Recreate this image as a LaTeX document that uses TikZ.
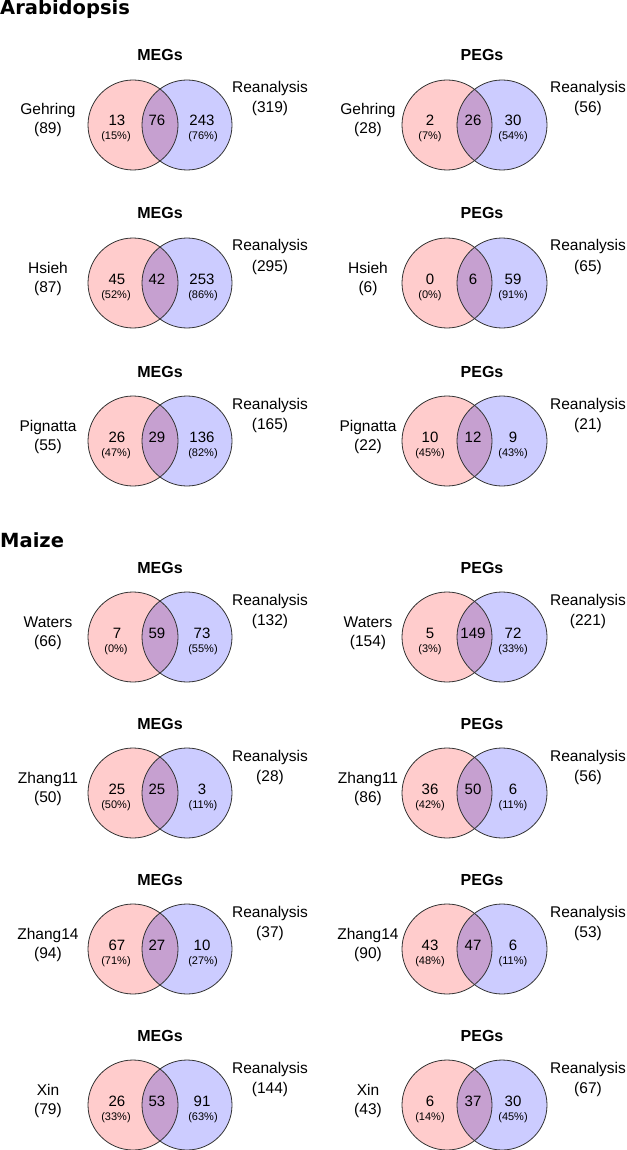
\documentclass[tikz,border=0pt]{standalone}
\usepackage{fontspec}
\setmainfont{Liberation Sans}
\newfontfamily\headfont{DejaVu Sans}
\definecolor{pinkfill}{RGB}{255,204,204}
\definecolor{bluefill}{RGB}{204,204,255}
\definecolor{lensfill}{RGB}{198,160,208}
\definecolor{edge}{RGB}{51,51,51}
\begin{document}
\begin{tikzpicture}[x=1pt,y=-1pt,
  setfill/.style={circle, minimum size=90pt, inner sep=0pt},
  redset/.style={setfill, fill=pinkfill},
  blueset/.style={setfill, fill=bluefill},
  ring/.style={draw=edge, line width=0.8pt},
  lbl/.style={anchor=base, inner sep=0pt, font=\fontsize{15.5}{18}\selectfont},
  num/.style={anchor=base, inner sep=0pt, font=\fontsize{15}{18}\selectfont},
  pct/.style={anchor=base, inner sep=0pt, font=\fontsize{11}{13}\selectfont},
  ttl/.style={anchor=base, inner sep=0pt, font=\fontsize{16}{19}\selectfont\bfseries},
  head/.style={anchor=base west, inner sep=0pt, font=\headfont\bfseries\fontsize{19.5}{23}\selectfont}]

\fill[white] (0,0) rectangle (626,1150);
\useasboundingbox (0,0) rectangle (626,1150);

\node[head] (arab) at (0,15) {Arabidopsis};
\node[head] (maize) at (0,547) {Maize};

\foreach \vid/\vc/\vy/\vt/\vln/\vlt/\va/\vap/\vab/\vb/\vbp/\vrt in {
  1/0/125/MEGs/Gehring/89/13/15/76/243/76/319,
  2/1/125/PEGs/Gehring/28/2/7/26/30/54/56,
  3/0/283/MEGs/Hsieh/87/45/52/42/253/86/295,
  4/1/283/PEGs/Hsieh/6/0/0/6/59/91/65,
  5/0/441/MEGs/Pignatta/55/26/47/29/136/82/165,
  6/1/441/PEGs/Pignatta/22/10/45/12/9/43/21,
  7/0/637/MEGs/Waters/66/7/0/59/73/55/132,
  8/1/637/PEGs/Waters/154/5/3/149/72/33/221,
  9/0/793/MEGs/Zhang11/50/25/50/25/3/11/28,
  10/1/793/PEGs/Zhang11/86/36/42/50/6/11/56,
  11/0/949/MEGs/Zhang14/94/67/71/27/10/27/37,
  12/1/949/PEGs/Zhang14/90/43/48/47/6/11/53,
  13/0/1105/MEGs/Xin/79/26/33/53/91/63/144,
  14/1/1105/PEGs/Xin/43/6/14/37/30/45/67} {
  \node[redset] (r\vid) at ({133+314*\vc},\vy) {};
  \node[blueset] (b\vid) at ({187+315*\vc},\vy) {};
  \begin{scope}
    \clip (r\vid.center) circle[radius=45pt];
    \fill[lensfill] (b\vid.center) circle[radius=45pt];
  \end{scope}
  \draw[ring] (r\vid.center) circle[radius=45pt];
  \draw[ring] (b\vid.center) circle[radius=45pt];
  \node[ttl] (t\vid) at ({160+322*\vc},{\vy-64}) {\vt};
  \node[lbl] (n\vid) at ({48+320*\vc},{\vy-10}) {\vln};
  \node[lbl] (nt\vid) at ({48+320*\vc},{\vy+9}) {(\vlt)};
  \node[num] (a\vid) at ({117+313*\vc},{\vy+1}) {\va};
  \node[pct] (ap\vid) at ({116+314*\vc},{\vy+15}) {(\vap\%)};
  \node[num] (ab\vid) at ({157+316*\vc},{\vy+1}) {\vab};
  \node[num] (bn\vid) at ({202+311*\vc},{\vy+1}) {\vb};
  \node[pct] (bp\vid) at ({203+310*\vc},{\vy+15}) {(\vbp\%)};
  \node[lbl] (re\vid) at ({270+318*\vc},{\vy-32}) {Reanalysis};
  \node[lbl] (rt\vid) at ({270+318*\vc},{\vy-12}) {(\vrt)};
}
\end{tikzpicture}
\end{document}
